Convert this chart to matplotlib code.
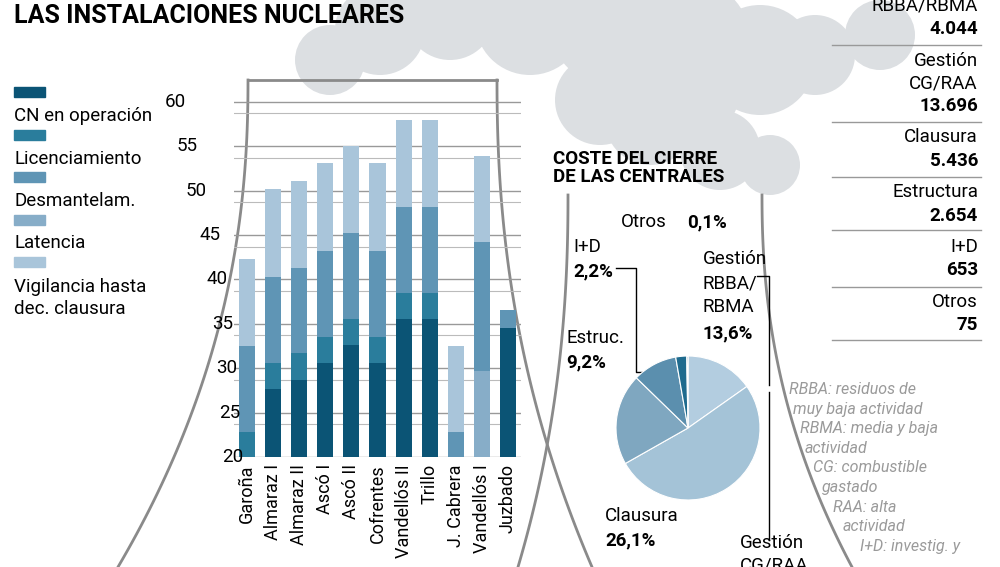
import matplotlib
matplotlib.use("Agg")
import matplotlib.pyplot as plt
import numpy as np
from matplotlib.patches import Circle, Rectangle

centrales = ["Garoña", "Almaraz I", "Almaraz II", "Ascó I", "Ascó II", "Cofrentes",
             "Vandellós II", "Trillo", "J. Cabrera", "Vandellós I", "Juzbado"]
# years (stacked segment lengths, axis starts at 20)
operacion = [0, 7.7, 8.7, 10.6, 12.6, 10.6, 15.5, 15.5, 0, 0, 14.5]
licenc = [2.8, 2.9, 3.0, 2.9, 2.9, 2.9, 3.0, 3.0, 0, 0, 0]
latencia = [0, 0, 0, 0, 0, 0, 0, 0, 0, 9.7, 0]
desmant = [9.7, 9.7, 9.6, 9.7, 9.7, 9.7, 9.7, 9.7, 2.8, 14.5, 2.0]
vigilancia = [9.8, 9.9, 9.8, 9.9, 9.8, 9.9, 9.8, 9.8, 9.7, 9.7, 0]
series_names = ["CN en operación", "Licenciamiento", "Desmantelam.", "Latencia",
                "Vigilancia hasta\ndec. clausura"]
yticks = [20, 25, 30, 35, 40, 45, 50, 55, 60]

cost_names = ["RBBA/RBMA", "Gestión\nCG/RAA", "Clausura", "Estructura", "I+D", "Otros"]
cost_values = [4044, 13696, 5436, 2654, 653, 75]
cost_labels = ["4.044", "13.696", "5.436", "2.654", "653", "75"]

W, H = 1000, 567
fig = plt.figure(figsize=(10, 5.67), dpi=100)
fig.patch.set_facecolor("white")

def fx(x): return x / W
def fy(y): return 1 - y / H

bg = fig.add_axes([0, 0, 1, 1])
bg.set_xlim(0, W); bg.set_ylim(H, 0); bg.axis("off")
cg = "#dcdfe2"
for (cx, cy, r) in [(330, 60, 35), (380, 30, 45), (450, 15, 45), (530, 20, 55), (610, 25, 60),
                    (690, 40, 60), (760, 60, 55), (815, 55, 40), (880, 35, 35), (600, 100, 45),
                    (650, 120, 45), (720, 150, 40), (770, 165, 30), (690, 90, 50)]:
    bg.add_patch(Circle((cx, cy), r, color=cg, lw=0, zorder=0))
tg = "#8a8a8a"
t = np.linspace(0, 1, 60)
bg.plot(248 - 130 * t**2.2, 80 + 487 * t, color=tg, lw=2)
bg.plot(497 + 95 * t**2.2, 80 + 487 * t, color=tg, lw=2)
bg.plot([248, 497], [80, 80], color=tg, lw=2)
bg.plot(568 - 50 * t**2.2, 195 + 372 * t, color=tg, lw=2)
bg.plot(762 + 90 * t**2.2, 195 + 372 * t, color=tg, lw=2)

fig.text(fx(14), fy(16), "LAS INSTALACIONES NUCLEARES", fontsize=18, fontweight="bold",
         va="center", ha="left", family="Roboto")

colors = ["#0b5475", "#2a7d9c", "#5f95b5", "#87adc8", "#a9c5da"]
ax = fig.add_axes([fx(234), fy(457), fx(287), (457 - 80) / H])
ax.set_xlim(-0.5, 10.5); ax.set_ylim(20, 62.45)
ax.axis("off")
x = np.arange(len(centrales))
bottom = np.full(len(centrales), 20.0)
for vals, c in zip([operacion, licenc, latencia, desmant, vigilancia],
                   [colors[0], colors[1], colors[3], colors[2], colors[4]]):
    v = np.array(vals)
    ax.bar(x, v, bottom=bottom, width=0.62, color=c, zorder=3)
    bottom += v
label_x = [243, 240, 237, 233, 228, 220, 207, 198, 186]
for yv, lx in zip(yticks, label_x):
    ax.axhline(yv, color="#999999", lw=1, zorder=1)
    ax.axhline(yv - 1.3, color="#bbbbbb", lw=0.8, zorder=1)
    fig.text(fx(lx), fy(457 - (yv - 20) * 8.88), str(yv), fontsize=13.5, ha="right",
             va="center", family="Roboto")
for xi, name in zip(x, centrales):
    ax.text(xi, 19.2, name, rotation=90, ha="center", va="top", fontsize=13, family="Roboto")

for i, (n, c) in enumerate(zip(series_names, colors)):
    yy = 92 + i * 42.5
    bg.add_patch(Rectangle((14, yy - 5), 31, 10, color=c))
    if i < 4:
        fig.text(fx(14), fy(yy + 24), n, fontsize=13.5, va="center", ha="left", family="Roboto")
    else:
        fig.text(fx(14), fy(yy + 36), n, fontsize=13.5, va="center", ha="left",
                 family="Roboto", linespacing=1.35)

pie_colors = ["#b3cde0", "#a4c3d7", "#7fa7c0", "#5b8fae", "#1f6b8e", "#0b5475"]
r = 72
pax = fig.add_axes([fx(688 - r), fy(428 + r), fx(2 * r), 2 * r / H])
pax.pie(cost_values, colors=pie_colors, startangle=90, counterclock=False,
        wedgeprops=dict(edgecolor="white", linewidth=0.8))
pax.set_xlim(-1, 1); pax.set_ylim(-1, 1)
pax.set_aspect("auto")
fig.text(fx(553), fy(168), "COSTE DEL CIERRE\nDE LAS CENTRALES", fontsize=13.5, fontweight="bold",
         ha="left", va="center", family="Roboto", linespacing=1.05)
nf = dict(fontsize=13.5, va="center", family="Roboto", ha="left")
pf = dict(fontsize=13.5, fontweight="bold", va="center", family="Roboto", ha="left")
fig.text(fx(621), fy(222), "Otros", **nf); fig.text(fx(687), fy(222), "0,1%", **pf)
fig.text(fx(573), fy(247), "I+D", **nf); fig.text(fx(573), fy(271), "2,2%", **pf)
for k, s in enumerate(["Gestión", "RBBA/", "RBMA"]):
    fig.text(fx(703), fy(259 + 24 * k), s, **nf)
fig.text(fx(703), fy(333), "13,6%", **pf)
fig.text(fx(566), fy(338), "Estruc.", **nf); fig.text(fx(566), fy(362), "9,2%", **pf)
fig.text(fx(605), fy(516), "Clausura", **nf); fig.text(fx(605), fy(540), "26,1%", **pf)
fig.text(fx(740), fy(543), "Gestión", **nf); fig.text(fx(740), fy(566), "CG/RAA", **nf)
bg.plot([616, 636, 636, 684], [268, 268, 372, 372], color="black", lw=1)
bg.plot([757, 769, 769], [276, 276, 385], color="black", lw=1)
bg.plot([769, 769], [392, 540], color="black", lw=1)

tf = dict(fontsize=13.5, ha="right", va="center", family="Roboto")
fig.text(fx(978), fy(5), "RBBA/RBMA", **tf); fig.text(fx(978), fy(29), "4.044", fontweight="bold", **tf)
fig.text(fx(978), fy(61), "Gestión", **tf); fig.text(fx(978), fy(84), "CG/RAA", **tf)
fig.text(fx(978), fy(106), "13.696", fontweight="bold", **tf)
for (ny, vy), n, v in zip([(137, 161), (192, 216), (247, 270), (302, 325)],
                          cost_names[2:], cost_labels[2:]):
    fig.text(fx(978), fy(ny), n, **tf)
    fig.text(fx(978), fy(vy), v, fontweight="bold", **tf)
for s in [45, 122, 177, 230, 287, 340]:
    bg.plot([832, 981], [s, s], color="#999999", lw=1)
notes = ["RBBA: residuos de", "muy baja actividad", "RBMA: media y baja", "actividad",
         "CG: combustible", "gastado", "RAA: alta", "actividad", "I+D: investig. y"]
nx = [789, 793, 800, 805, 813, 822, 833, 843, 860]
for i, (n, xx) in enumerate(zip(notes, nx)):
    fig.text(fx(xx), fy(390 + i * 19.5), n, fontsize=11.5, style="italic", color="#9a9a9a",
             ha="left", va="center", family="Roboto")

fig.savefig("out.png", dpi=100, facecolor="white")
